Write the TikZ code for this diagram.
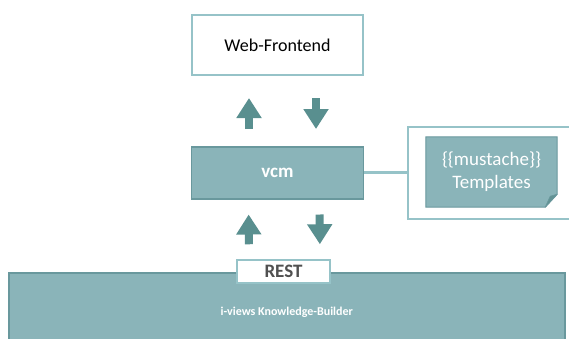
\documentclass[tikz,border=0pt]{standalone}
\usepackage{fontspec}
\setmainfont{Carlito}
\definecolor{tealfill}{RGB}{138,180,185}
\definecolor{tealline}{RGB}{105,152,157}
\definecolor{tealpale}{RGB}{150,195,200}
\definecolor{tealarrow}{RGB}{89,143,143}
\definecolor{tealfold}{RGB}{98,146,148}
\definecolor{restgray}{RGB}{80,80,80}
\usetikzlibrary{arrows.meta, positioning}

\begin{document}
\begin{tikzpicture}[
    x=1pt, y=1pt,
    node distance=70pt and 43pt,
    box/.style={draw=tealline, line width=1.5pt, minimum width=172pt, minimum height=52pt, inner sep=0pt, fill=tealfill, text=white, font=\fontsize{19}{22}\selectfont\bfseries},
    whitebox/.style={draw=tealpale, line width=2pt, fill=white, inner sep=0pt},
    blockarr/.style={-{Triangle[width=24pt, length=20pt]}, line width=8pt, draw=tealarrow},
    link/.style={draw=tealpale, line width=3pt}
]
    \clip (0,0) rectangle (569,-338);

    \node[whitebox, minimum width=171pt, minimum height=60pt, font=\fontsize{18}{21}\selectfont] (web) at (277.5,-45) {Web-Frontend};
    \node[box, below=70pt of web] (vcm) {vcm};
    \node[whitebox, line width=1.5pt, right=43pt of vcm, minimum width=175pt, minimum height=92pt, anchor=west] (tpl) {};

    % note with folded corner
    \node[minimum width=131pt, minimum height=70pt, inner sep=0pt] (note) at (491.5,-172) {};
    \filldraw[draw=tealline, line width=1pt, fill=tealfill] (note.north west) -- (note.north east) -- ([yshift=13pt]note.south east)
        -- ([xshift=-12pt]note.south east) -- (note.south west) -- cycle;
    \filldraw[draw=tealline, line width=0.6pt, fill=tealfold, line join=round] ([yshift=13pt]note.south east) -- ([xshift=-12pt]note.south east)
        -- ([xshift=-7pt, yshift=11pt]note.south east) -- cycle;
    \node[text=white, align=center, font=\fontsize{19}{23}\selectfont] (notel) at (note.center) {\{\{mustache\}\}\\Templates};

    \node[box, anchor=north west, minimum width=556pt, minimum height=80pt, font=\fontsize{12}{14}\selectfont\bfseries] (kb) at (8,-272) {i-views Knowledge-Builder};
    \node[whitebox, line width=1.5pt, minimum width=93pt, minimum height=23pt, text=restgray, font=\fontsize{19}{21}\selectfont\bfseries] (rest) at (283.5,-271.5) {REST};

    \draw[link] (vcm) -- (tpl);

    \draw[blockarr, shorten <=17pt, shorten >=22pt] ([xshift=-28.5pt]vcm.north) -- ([xshift=-28.5pt]web.south);
    \draw[blockarr, shorten <=22pt, shorten >=17pt] ([xshift=38.5pt]web.south) -- ([xshift=38.5pt]vcm.north);
    \draw[blockarr, shorten <=15pt, shorten >=15pt] ([xshift=-34.5pt]rest.north) -- ([xshift=-29pt]vcm.south);
    \draw[blockarr, shorten <=15pt, shorten >=15pt] ([xshift=42pt]vcm.south) -- ([xshift=36.5pt]rest.north);
\end{tikzpicture}
\end{document}
